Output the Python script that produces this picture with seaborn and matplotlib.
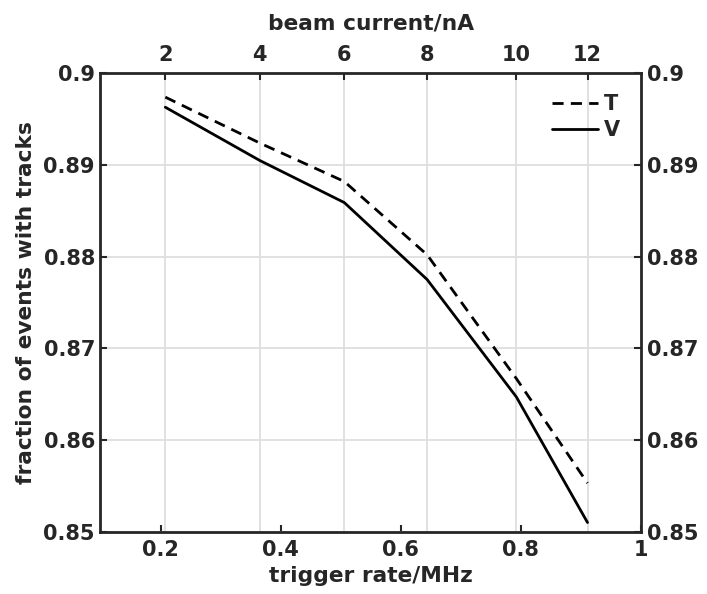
import numpy as np
import pandas as pd
import matplotlib
matplotlib.use("Agg")
import matplotlib.pyplot as plt
import seaborn as sns

# ---------------- data ----------------
trigger_rate = [0.208, 0.365, 0.506, 0.644, 0.7925, 0.911]   # MHz
beam_current = [2, 4, 6, 8, 10, 12]                          # nA
frac_T = [0.8974, 0.8924, 0.8882, 0.8802, 0.8667, 0.8553]
frac_V = [0.8963, 0.8905, 0.8859, 0.8775, 0.8647, 0.8510]

bottom_ticks = [0.2, 0.4, 0.6, 0.8, 1.0]
bottom_labels = ["0.2", "0.4", "0.6", "0.8", "1"]
y_ticks = [0.85, 0.86, 0.87, 0.88, 0.89, 0.90]
y_labels = ["0.85", "0.86", "0.87", "0.88", "0.89", "0.9"]

df = pd.DataFrame({"rate": trigger_rate, "T": frac_T, "V": frac_V})

# ---------------- style ----------------
sns.set_theme(style="white")
plt.rcParams["font.family"] = ["DejaVu Sans"]
plt.rcParams["font.weight"] = "bold"
plt.rcParams["axes.labelweight"] = "bold"

fs = 15
fs_lab = 15.7
fig = plt.figure(figsize=(7.07, 5.94), dpi=100)
ax = fig.add_axes([0.1421, 0.1049, 0.7645, 0.7717])

sns.lineplot(data=df, x="rate", y="T", ax=ax, color="black", lw=2,
             label="T", dashes=False, linestyle=(0, (4, 2.6)))
sns.lineplot(data=df, x="rate", y="V", ax=ax, color="black", lw=2,
             label="V")

ax.set_xlim(0.1, 1.0)
ax.set_ylim(0.85, 0.9)

# top axis: beam current (main x axis, carries the grid)
ax.set_xticks(trigger_rate)
ax.set_xticklabels([str(b) for b in beam_current])
ax.tick_params(axis="x", bottom=False, labelbottom=False, top=True,
               labeltop=True, direction="in", length=5, width=1.5,
               labelsize=fs, color="#262626", pad=6)
ax.xaxis.set_label_position("top")
ax.set_xlabel("beam current/nA", fontsize=fs_lab, labelpad=11)

ax.set_yticks(y_ticks)
ax.set_yticklabels(y_labels)
ax.tick_params(axis="y", left=True, right=True, labelleft=True,
               labelright=True, direction="in", length=5, width=1.5,
               labelsize=fs, color="#262626", pad=4)
ax.set_ylabel("fraction of events with tracks", fontsize=fs_lab, labelpad=5)

ax.grid(True, color="#dedede", lw=1.3)
ax.set_axisbelow(True)

# bottom axis: trigger rate
sec = ax.secondary_xaxis("bottom")
sec.set_xticks(bottom_ticks)
sec.set_xticklabels(bottom_labels)
sec.tick_params(axis="x", direction="in", length=5, width=1.5,
                labelsize=fs, color="#262626", pad=6)
sec.set_xlabel("trigger rate/MHz", fontsize=fs_lab, labelpad=4)
for lab in sec.get_xticklabels():
    lab.set_fontweight("bold")
sec.spines["bottom"].set_visible(False)

for lab in ax.get_xticklabels() + ax.get_yticklabels():
    lab.set_fontweight("bold")
for s in ax.spines.values():
    s.set_visible(True)
    s.set_color("#262626")
    s.set_linewidth(2)

leg = ax.legend(loc="upper right", frameon=False, fontsize=fs,
                handlelength=2.2, handletextpad=0.3, labelspacing=0.3,
                borderaxespad=0.6)
for t in leg.get_texts():
    t.set_fontweight("bold")

fig.savefig("out.png", dpi=100)
